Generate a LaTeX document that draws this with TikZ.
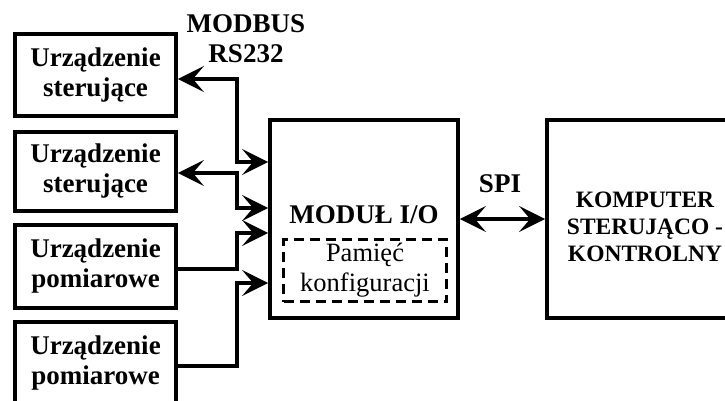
\documentclass[tikz,border=0pt]{standalone}
\usepackage{fontspec}
\setmainfont{Liberation Serif}
\usetikzlibrary{arrows.meta}
\tikzset{blk/.style={draw, line width=3.8pt, align=center, inner sep=0pt,
  font=\bfseries\fontsize{27}{30}\selectfont},
  devbox/.style={blk, minimum width=161pt},
  lbl/.style={align=center, font=\bfseries\fontsize{27}{30}\selectfont},
  link/.style={line width=3.3pt, -{Stealth[length=26pt, width=26pt, inset=11pt]}},
  biLink/.style={line width=3.3pt, {Stealth[length=26pt, width=26pt, inset=11pt]}-{Stealth[length=26pt, width=26pt, inset=11pt]}}}

\begin{document}
\begin{tikzpicture}[x=1pt, y=-1pt]
\clip (0,0) rectangle (725,401);
% devices on the left
\node[devbox, minimum height=82pt] (ster1) at (95.5,75) {Urządzenie\\sterujące};
\node[devbox, minimum height=79pt] (ster2) at (95.5,171.5) {Urządzenie\\sterujące};
\node[devbox, minimum height=83pt] (pom1) at (95.5,266.5) {Urządzenie\\pomiarowe};
\node[devbox, minimum height=83pt] (pom2) at (95.5,363.5) {Urządzenie\\pomiarowe};
% I/O module with its memory
\node[blk, minimum width=188pt, minimum height=198pt] (mod) at (364,219) {};
\node[lbl] (modtxt) at (364,215) {MODUŁ I/O};
\node[draw, dashed, dash pattern=on 10pt off 6pt, line width=2.6pt, minimum width=163pt, minimum height=62pt,
  align=center, inner sep=0pt, font=\fontsize{26.5}{30}\selectfont] (mem) at (365,270.5) {Pamięć\\konfiguracji};
% computer (cut by the right edge)
\node[blk, minimum width=196pt, minimum height=198pt] (komp) at (645,219) {};
\node[lbl, font=\bfseries\fontsize{23.5}{27}\selectfont] (komptxt) at (645,227) {KOMPUTER\\STERUJĄCO -\\KONTROLNY};
% bus bends
\coordinate (b1) at (237,162);
\coordinate (b2) at (237,208);
\coordinate (b3) at (237,233);
\coordinate (b4) at (237,283);
\draw[biLink] ([yshift=-4pt]ster1.east) -| (b1) -- (b1 -| mod.west);
\draw[biLink] ([yshift=-1.5pt]ster2.east) -| (b2) -- (b2 -| mod.west);
\draw[link] ([yshift=-2.5pt]pom1.east) -| (b3) -- (b3 -| mod.west);
\draw[link] ([yshift=-2.5pt]pom2.east) -| (b4) -- (b4 -| mod.west);
\draw[biLink] (mod.east) -- (komp.west);
% labels
\node[lbl] (modbus) at (246,39) {MODBUS\\RS232};
\node[lbl] (spi) at (500,184) {SPI};
\end{tikzpicture}
\end{document}
